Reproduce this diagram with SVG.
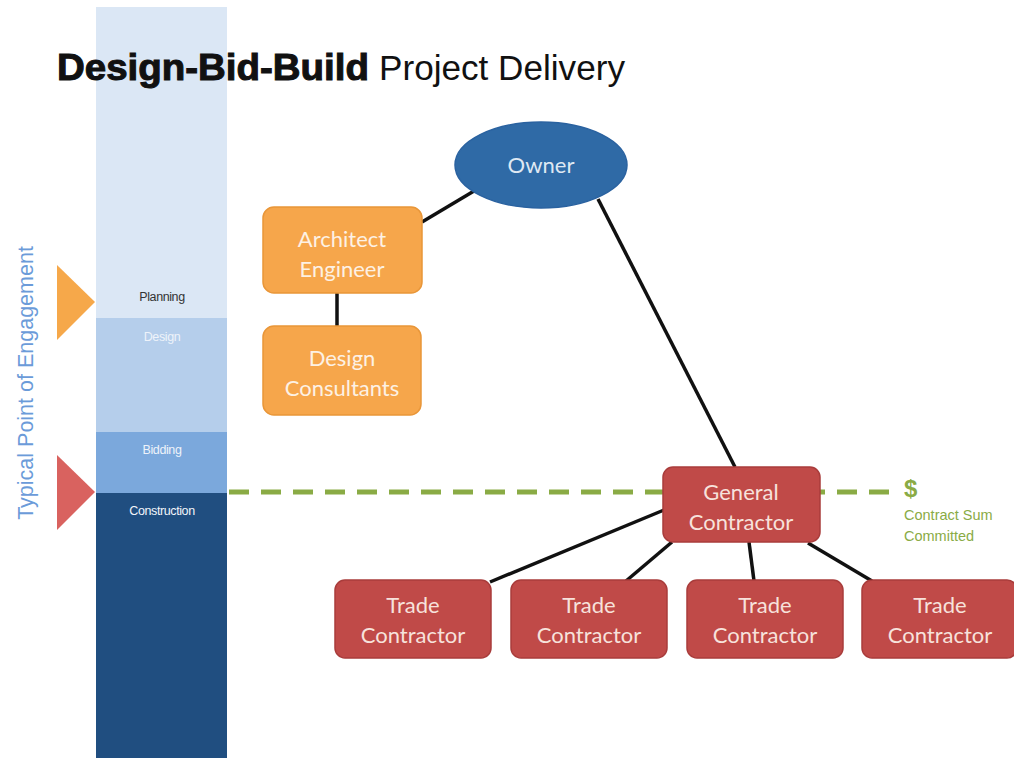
<svg xmlns="http://www.w3.org/2000/svg" width="1014" height="758" viewBox="0 0 1014 758">
<style>
.node text{font-family:Lato,"Open Sans","Liberation Sans",sans-serif;font-size:22px;text-anchor:middle}
.orange rect{fill:#f6a64b;stroke:#e99638;stroke-width:1.5}
.orange text{fill:#fdf1e4}
.red rect{fill:#c04a48;stroke:#a93c3b;stroke-width:1.5}
.red text{fill:#f7e2dc}
.stage{font-family:"Liberation Sans",Arial,sans-serif;font-size:12.5px;text-anchor:middle;letter-spacing:-0.4px}
.conn line{stroke:#111;stroke-width:3.5}
.green{fill:#8aab45;font-family:"Liberation Sans",Arial,sans-serif}
</style>
<rect width="1014" height="758" fill="#ffffff"/>
<g id="phase-column">
<rect x="96" y="7" width="131" height="311" fill="#dbe7f5"/>
<rect x="96" y="318" width="131" height="114" fill="#b5ceeb"/>
<rect x="96" y="432" width="131" height="61" fill="#7ba8dc"/>
<rect x="96" y="493" width="131" height="265" fill="#204e80"/>
<text class="stage" x="162" y="301" fill="#333333">Planning</text>
<text class="stage" x="162" y="341" fill="#eef3fa">Design</text>
<text class="stage" x="162" y="454" fill="#eef3fa">Bidding</text>
<text class="stage" x="162" y="515" fill="#f2f5fa">Construction</text>
</g>
<g id="title">
<text x="57" y="80" font-family="'Liberation Sans',Arial,sans-serif" font-size="36" fill="#111111"><tspan font-weight="bold" stroke="#111111" stroke-width="1" textLength="312" lengthAdjust="spacingAndGlyphs">Design-Bid-Build</tspan><tspan dx="10" font-size="35" textLength="246" lengthAdjust="spacingAndGlyphs">Project Delivery</tspan></text>
</g>
<g id="engagement">
<text transform="translate(33,383) rotate(-90)" text-anchor="middle" font-family="'Liberation Sans',Arial,sans-serif" font-size="21.5" fill="#6b9bd9">Typical Point of Engagement</text>
<polygon points="57,265 95,302 57,340" fill="#f6a84a"/>
<polygon points="57,455 95,492 57,530" fill="#d9625f"/>
</g>
<g id="contract-sum">
<line x1="229" y1="492" x2="900" y2="492" stroke="#8aab45" stroke-width="5" stroke-dasharray="20,12"/>
<text class="green" x="904" y="497" font-size="24" font-weight="bold">$</text>
<text class="green" x="904" y="520" font-size="14.5" fill="#99b862">Contract Sum</text>
<text class="green" x="904" y="541" font-size="14.5" fill="#99b862">Committed</text>
</g>
<g id="connectors" class="conn">
<line x1="422" y1="222" x2="474" y2="191"/>
<line x1="337" y1="293" x2="337" y2="326"/>
<line x1="598" y1="199" x2="735" y2="467"/>
<line x1="664" y1="510" x2="490" y2="582"/>
<line x1="672" y1="542" x2="626" y2="581"/>
<line x1="749" y1="542" x2="754" y2="581"/>
<line x1="808" y1="543" x2="872" y2="581"/>
</g>
<g id="owner" class="node">
<ellipse cx="541" cy="165" rx="86" ry="43" fill="#2f6aa6" stroke="#2a62a0" stroke-width="1.5"/>
<text x="541" y="173" fill="#dfe8f3">Owner</text>
</g>
<g id="architect" class="node orange">
<rect x="263" y="207" width="159" height="86" rx="11"/>
<text x="342" y="247">Architect</text>
<text x="342" y="277">Engineer</text>
</g>
<g id="consultants" class="node orange">
<rect x="263" y="326" width="158" height="89" rx="11"/>
<text x="342" y="366">Design</text>
<text x="342" y="396">Consultants</text>
</g>
<g id="general-contractor" class="node red">
<rect x="663" y="467" width="157" height="75" rx="10"/>
<text x="741" y="500">General</text>
<text x="741" y="530">Contractor</text>
</g>
<g id="trade1" class="node red">
<rect x="335" y="580" width="156" height="78" rx="10"/>
<text x="413" y="613">Trade</text>
<text x="413" y="643">Contractor</text>
</g>
<g id="trade2" class="node red">
<rect x="511" y="580" width="156" height="78" rx="10"/>
<text x="589" y="613">Trade</text>
<text x="589" y="643">Contractor</text>
</g>
<g id="trade3" class="node red">
<rect x="687" y="580" width="156" height="78" rx="10"/>
<text x="765" y="613">Trade</text>
<text x="765" y="643">Contractor</text>
</g>
<g id="trade4" class="node red">
<rect x="862" y="580" width="155" height="78" rx="10"/>
<text x="940" y="613">Trade</text>
<text x="940" y="643">Contractor</text>
</g>
</svg>
